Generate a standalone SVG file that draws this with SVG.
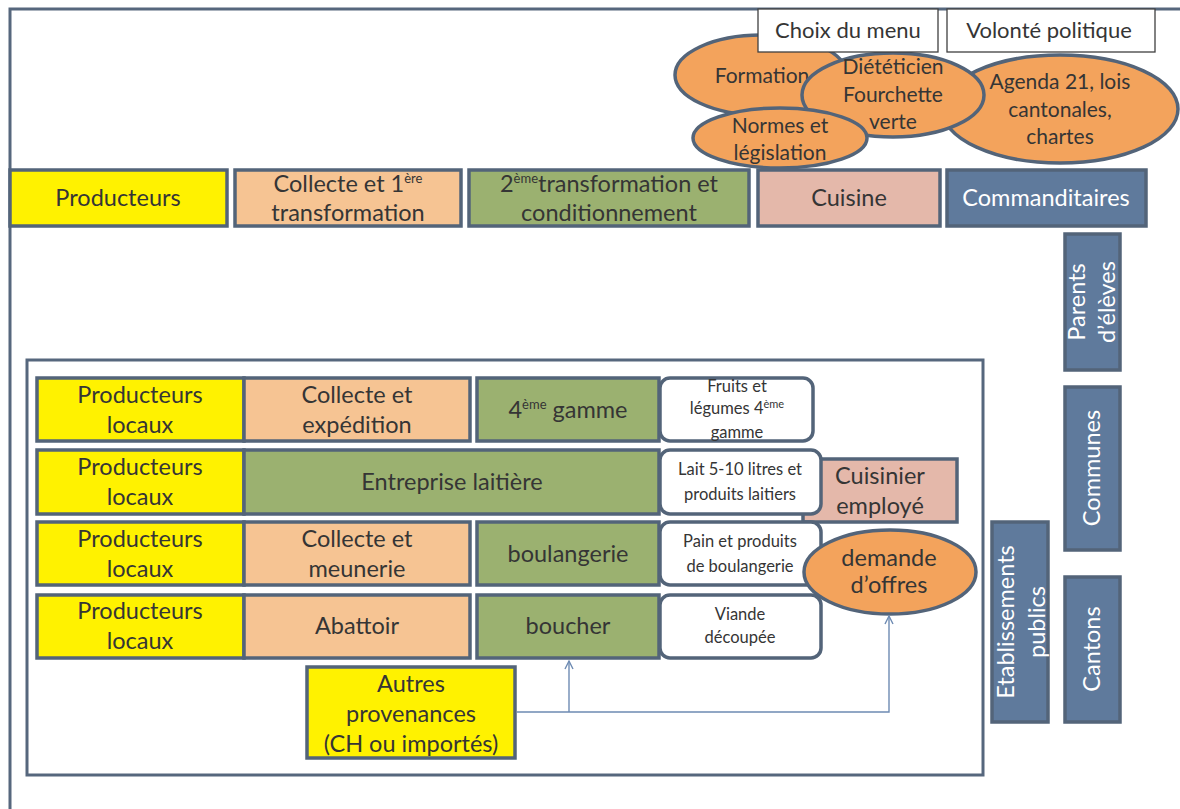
<svg xmlns="http://www.w3.org/2000/svg" width="1180" height="809" viewBox="0 0 1180 809">
<defs>
<style>
.frame{fill:none;stroke:#56677d;stroke-width:3}
.box{stroke:#536479;stroke-width:3.5}
.y{fill:#FFF200}
.p{fill:#F6C493}
.g{fill:#9BB170}
.k{fill:#E4B8AA}
.b{fill:#5F7A9C}
.o{fill:#F3A35C}
.w{fill:#FFFFFF}
.wt{fill:#FFFFFF;stroke:#404040;stroke-width:1.3}
text{font-family:Lato,"Liberation Sans",sans-serif;fill:#353535;text-anchor:middle}
.t23{font-size:23.5px}
.t20{font-size:21px}
.t22{font-size:22px}
.t15{font-size:16.5px}
.wh{fill:#FFFFFF}
.con{fill:none;stroke:#6E8BB3;stroke-width:1.4}
</style>
<marker id="arr" markerWidth="12" markerHeight="12" refX="9" refY="5" orient="auto" markerUnits="userSpaceOnUse">
<path d="M1,1 L9,5 L1,9" fill="none" stroke="#6E8BB3" stroke-width="1.4"/>
</marker>
</defs>
<rect width="1180" height="809" fill="#FFFFFF"/>
<path class="frame" d="M10,809 V9 H1180"/>

<!-- Top ellipses -->
<g id="formation"><ellipse class="box o" cx="761" cy="75" rx="86" ry="40"/><text class="t20" x="762" y="83">Formation</text></g>
<g id="agenda"><ellipse class="box o" cx="1060" cy="109" rx="118" ry="54"/><text class="t20" x="1060" y="89">Agenda 21, lois</text><text class="t20" x="1060" y="117">cantonales,</text><text class="t20" x="1060" y="144">chartes</text></g>
<g id="dieteticien"><ellipse class="box o" cx="893" cy="95" rx="91" ry="42"/><text class="t20" x="893" y="74">Diététicien</text><text class="t20" x="893" y="102">Fourchette</text><text class="t20" x="893" y="129">verte</text></g>
<g id="normes"><ellipse class="box o" cx="780" cy="138" rx="87" ry="30"/><text class="t20" x="780" y="133">Normes et</text><text class="t20" x="780" y="160">législation</text></g>
<g id="choix"><rect class="wt" x="758" y="9" width="180" height="43"/><text class="t22" x="848" y="38">Choix du menu</text></g>
<g id="volonte"><rect class="wt" x="947" y="9" width="208" height="43"/><text class="t22" x="1049" y="38">Volonté politique</text></g>

<!-- Top row -->
<g id="producteurs"><rect class="box y" x="10" y="170" width="217" height="56"/><text class="t23" x="118" y="206">Producteurs</text></g>
<g id="collecte1"><rect class="box p" x="235" y="170" width="226" height="56"/><text class="t23" x="348" y="192">Collecte et 1<tspan font-size="13" dy="-9">ère</tspan></text><text class="t23" x="348" y="221">transformation</text></g>
<g id="transfo2"><rect class="box g" x="469" y="170" width="280" height="56"/><text class="t23" x="609" y="192">2<tspan font-size="13" dy="-9">ème</tspan><tspan dy="9">transformation et</tspan></text><text class="t23" x="609" y="221">conditionnement</text></g>
<g id="cuisine"><rect class="box k" x="758" y="170" width="182" height="56"/><text class="t23" x="849" y="206">Cuisine</text></g>
<g id="commanditaires"><rect class="box b" x="947" y="170" width="199" height="56"/><text class="t23 wh" x="1046" y="206">Commanditaires</text></g>

<!-- Vertical commanditaire boxes -->
<g id="parents"><rect class="box b" x="1065" y="234" width="55" height="136"/><g transform="translate(1092,302) rotate(-90)"><text class="t23 wh" x="0" y="-7">Parents</text><text class="t23 wh" x="0" y="23">d’élèves</text></g></g>
<g id="communes"><rect class="box b" x="1065" y="387" width="55" height="163"/><g transform="translate(1092,468) rotate(-90)"><text class="t23 wh" x="0" y="8">Communes</text></g></g>
<g id="cantons"><rect class="box b" x="1065" y="577" width="55" height="145"/><g transform="translate(1092,649) rotate(-90)"><text class="t23 wh" x="0" y="8">Cantons</text></g></g>
<g id="etablissements"><rect class="box b" x="992" y="522" width="56" height="200"/><g transform="translate(1021,622) rotate(-90)"><text class="t23 wh" x="0" y="-7">Etablissements</text><text class="t23 wh" x="0" y="24">publics</text></g></g>

<!-- Inner frame -->
<rect id="local-frame" class="frame" x="27" y="360" width="956" height="415"/>

<!-- Row 1 -->
<g id="prod-loc-1"><rect class="box y" x="37" y="378" width="207" height="63"/><text class="t23" x="140" y="403">Producteurs</text><text class="t23" x="140" y="433">locaux</text></g>
<g id="collecte-exp"><rect class="box p" x="244" y="378" width="226" height="63"/><text class="t23" x="357" y="403">Collecte et</text><text class="t23" x="357" y="433">expédition</text></g>
<g id="gamme4"><rect class="box g" x="477" y="378" width="182" height="63"/><text class="t23" x="568" y="418">4<tspan font-size="13" dy="-9">ème</tspan><tspan dy="9"> gamme</tspan></text></g>
<g id="fruits"><rect class="box w" x="660" y="378" width="153" height="63" rx="10"/><text class="t15" x="737" y="392">Fruits et</text><text class="t15" x="737" y="414">légumes 4<tspan font-size="11" dy="-6">ème</tspan></text><text class="t15" x="737" y="438">gamme</text></g>

<!-- Row 2 -->
<g id="prod-loc-2"><rect class="box y" x="37" y="450" width="207" height="64"/><text class="t23" x="140" y="475">Producteurs</text><text class="t23" x="140" y="505">locaux</text></g>
<g id="laitiere"><rect class="box g" x="244" y="450" width="415" height="64"/><text class="t23" x="452" y="490">Entreprise laitière</text></g>
<g id="cuisinier"><rect class="box k" x="803" y="459" width="154" height="63"/><text class="t23" x="880" y="484">Cuisinier</text><text class="t23" x="880" y="514">employé</text></g>
<g id="lait"><rect class="box w" x="660" y="450" width="161" height="64" rx="10"/><text class="t15" x="740" y="475">Lait 5-10 litres et</text><text class="t15" x="740" y="500">produits laitiers</text></g>

<!-- Row 3 -->
<g id="prod-loc-3"><rect class="box y" x="37" y="522" width="207" height="63"/><text class="t23" x="140" y="547">Producteurs</text><text class="t23" x="140" y="577">locaux</text></g>
<g id="meunerie"><rect class="box p" x="244" y="522" width="226" height="63"/><text class="t23" x="357" y="547">Collecte et</text><text class="t23" x="357" y="577">meunerie</text></g>
<g id="boulangerie"><rect class="box g" x="477" y="522" width="182" height="63"/><text class="t23" x="568" y="562">boulangerie</text></g>
<g id="pain"><rect class="box w" x="660" y="522" width="161" height="63" rx="10"/><text class="t15" x="740" y="547">Pain et produits</text><text class="t15" x="740" y="572">de boulangerie</text></g>
<g id="demande"><ellipse class="box o" cx="890" cy="572" rx="86" ry="42"/><text class="t23" x="889" y="566">demande</text><text class="t23" x="889" y="593">d’offres</text></g>

<!-- Row 4 -->
<g id="prod-loc-4"><rect class="box y" x="37" y="595" width="207" height="63"/><text class="t23" x="140" y="619">Producteurs</text><text class="t23" x="140" y="649">locaux</text></g>
<g id="abattoir"><rect class="box p" x="244" y="595" width="226" height="63"/><text class="t23" x="357" y="634">Abattoir</text></g>
<g id="boucher"><rect class="box g" x="477" y="595" width="182" height="63"/><text class="t23" x="568" y="634">boucher</text></g>
<g id="viande"><rect class="box w" x="660" y="595" width="161" height="63" rx="10"/><text class="t15" x="740" y="620">Viande</text><text class="t15" x="740" y="643">découpée</text></g>

<g id="autres"><rect class="box y" x="307" y="667" width="208" height="91"/><text class="t23" x="411" y="692">Autres</text><text class="t23" x="411" y="722">provenances</text><text class="t23" x="411" y="752">(CH ou importés)</text></g>

<!-- Connectors -->
<g id="connectors">
<path class="con" d="M517,712 H889 V616" marker-end="url(#arr)"/>
<path class="con" d="M569,712 V661" marker-end="url(#arr)"/>
</g>
</svg>
